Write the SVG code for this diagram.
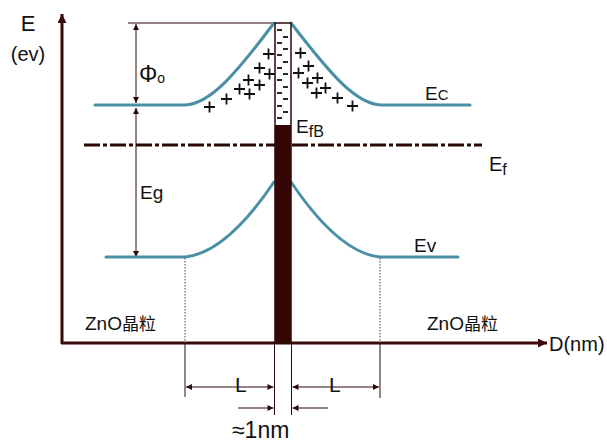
<svg xmlns="http://www.w3.org/2000/svg" width="607" height="443" viewBox="0 0 607 443">
<defs>
<style>
.t{font-family:"Liberation Sans",Arial,"Noto Sans CJK SC",sans-serif;fill:#111}
.band{fill:none;stroke:#4a8fa6;stroke-width:3;stroke-linecap:round}
.thin{stroke:#2a0a0a;stroke-width:1;fill:none}
.dot{stroke:#444;stroke-width:1;stroke-dasharray:1.5 1.5;fill:none}
.pm{stroke:#111;stroke-width:1.8}
</style>
<marker id="ah" viewBox="0 0 10 10" refX="10" refY="5" markerWidth="8" markerHeight="6" orient="auto-start-reverse" markerUnits="userSpaceOnUse">
<path d="M0,0 L10,5 L0,10 Z" fill="#2a0a0a"/>
</marker>
<marker id="big" viewBox="0 0 10 10" refX="10" refY="5" markerWidth="16" markerHeight="9" orient="auto" markerUnits="userSpaceOnUse">
<path d="M0,0 L10,5 L0,10 Z" fill="#3a0a0a"/>
</marker>
</defs>
<rect width="607" height="443" fill="#fff"/>

<g id="connectors">
<line x1="62" y1="344" x2="62" y2="14" stroke="#3a0a0a" stroke-width="3" marker-end="url(#big)"/>
<line x1="61" y1="343" x2="547" y2="343" stroke="#3a0a0a" stroke-width="3" marker-end="url(#big)"/>
<line class="thin" x1="128" y1="23" x2="275" y2="23"/>
<line class="thin" x1="136" y1="24" x2="136" y2="103" marker-start="url(#ah)" marker-end="url(#ah)"/>
<line class="thin" x1="136" y1="108" x2="136" y2="257" marker-start="url(#ah)" marker-end="url(#ah)"/>
<line x1="84" y1="145" x2="482" y2="145" stroke="#2a0808" stroke-width="3" stroke-dasharray="16 3 4 3"/>
<line class="dot" x1="185" y1="258" x2="185" y2="343"/>
<line class="dot" x1="380" y1="258" x2="380" y2="343"/>
<line class="thin" x1="185" y1="343" x2="185" y2="397"/>
<line class="thin" x1="380" y1="343" x2="380" y2="398"/>
<line class="thin" x1="274.5" y1="343" x2="274.5" y2="415"/>
<line class="thin" x1="291.5" y1="343" x2="291.5" y2="415"/>
<line class="thin" x1="186" y1="387" x2="273.5" y2="387" marker-start="url(#ah)" marker-end="url(#ah)"/>
<line class="thin" x1="292.5" y1="387" x2="379" y2="387" marker-start="url(#ah)" marker-end="url(#ah)"/>
<line class="thin" x1="238" y1="408" x2="273.5" y2="408" marker-end="url(#ah)"/>
<line class="thin" x1="328" y1="408" x2="292.5" y2="408" marker-end="url(#ah)"/>
</g>

<g id="conduction-band">
<path class="band" d="M95,105 L185,105 C210,104 235,75 274,23"/>
<path class="band" d="M291,23 C331,75 356,104 381,105 L470,105"/>
</g>

<g id="valence-band">
<path class="band" d="M106,257 L185,257 C215,254 245,225 274,182"/>
<path class="band" d="M291,182 C320,225 350,254 380,257 L458,257"/>
</g>

<g id="grain-boundary">
<rect x="275" y="23" width="16" height="320" fill="#fff" stroke="#2a0808" stroke-width="1.5"/>
<rect x="275" y="125" width="16" height="218" fill="#350606"/>
<g class="pm">
<line x1="277" y1="30" x2="282" y2="30"/>
<line x1="283" y1="37" x2="288" y2="37"/>
<line x1="277" y1="43" x2="282" y2="43"/>
<line x1="283" y1="49" x2="288" y2="49"/>
<line x1="277" y1="55" x2="282" y2="55"/>
<line x1="283" y1="62" x2="288" y2="62"/>
<line x1="277" y1="68" x2="282" y2="68"/>
<line x1="283" y1="74" x2="288" y2="74"/>
<line x1="277" y1="80" x2="282" y2="80"/>
<line x1="283" y1="87" x2="288" y2="87"/>
<line x1="277" y1="93" x2="282" y2="93"/>
<line x1="283" y1="99" x2="288" y2="99"/>
<line x1="277" y1="106" x2="282" y2="106"/>
<line x1="283" y1="112" x2="288" y2="112"/>
<line x1="277" y1="118" x2="282" y2="118"/>
</g>
</g>

<g id="space-charge" class="pm">
<path d="M263,54h11M268.5,48.5v11 M254,68h11M259.5,62.5v11 M264,74h11M269.5,68.5v11 M243,80h11M248.5,74.5v11 M254,85h11M259.5,79.5v11 M234,89h11M239.5,83.5v11 M244,94h11M249.5,88.5v11 M221,99h11M226.5,93.5v11 M204,107h11M209.5,101.5v11"/>
<path d="M295,53h11M300.5,47.5v11 M303,66h11M308.5,60.5v11 M293,73h11M298.5,67.5v11 M312,78h11M317.5,72.5v11 M302,83h11M307.5,77.5v11 M320,88h11M325.5,82.5v11 M311,93h11M316.5,87.5v11 M332,98h11M337.5,92.5v11 M347,106h11M352.5,100.5v11"/>
</g>

<g id="labels">
<text class="t" x="28" y="31" font-size="22" text-anchor="middle">E</text>
<text class="t" x="28" y="61" font-size="20" text-anchor="middle">(ev)</text>
<text class="t" x="139" y="82" font-size="23">Φ<tspan font-size="14" dy="1">o</tspan></text>
<text class="t" x="425" y="100" font-size="19">E<tspan font-size="15">C</tspan></text>
<text class="t" x="296" y="133" font-size="19">E<tspan font-size="16" dy="4">fB</tspan></text>
<text class="t" x="489" y="171" font-size="20">E<tspan font-size="16" dy="4">f</tspan></text>
<text class="t" x="140" y="199" font-size="19">Eg</text>
<text class="t" x="414" y="252" font-size="19">Ev</text>
<text class="t" x="85" y="330" font-size="19">ZnO<tspan font-size="17">晶粒</tspan></text>
<text class="t" x="427" y="330" font-size="19">ZnO<tspan font-size="17">晶粒</tspan></text>
<text class="t" x="549" y="351" font-size="20">D(nm)</text>
<text class="t" x="235" y="392" font-size="21">L</text>
<text class="t" x="329" y="392" font-size="21">L</text>
<text class="t" x="232" y="438" font-size="23">≈1nm</text>
</g>
</svg>
